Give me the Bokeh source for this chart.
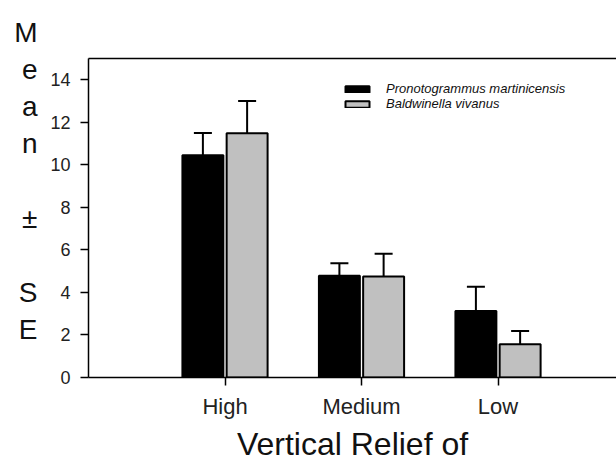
from bokeh.plotting import figure
from bokeh.models import (Range1d, FixedTicker, LinearAxis, Whisker, TeeHead,
                          ColumnDataSource, Legend, LegendItem)
from bokeh.embed import file_html
from bokeh.resources import INLINE

categories = ["High", "Medium", "Low"]
series_names = ["Pronotogrammus martinicensis", "Baldwinella vivanus"]
pronotogrammus_mean = [10.45, 4.78, 3.13]
pronotogrammus_se = [1.05, 0.59, 1.14]
baldwinella_mean = [11.49, 4.75, 1.56]
baldwinella_se = [1.51, 1.07, 0.63]
y_ticks = [0, 2, 4, 6, 8, 10, 12, 14]
y_title = "M\ne\na\nn\n\n±\n\nS\nE\n\n"

FONT = "Liberation Sans"
OFFSET = 0.162
WIDTH = 0.30

centers = [i + 1 for i in range(len(categories))]

p = figure(width=616, height=464, output_backend="svg", toolbar_location=None,
           x_range=Range1d(0, 3.868), y_range=Range1d(0, 15),
           min_border_left=88, min_border_right=0, min_border_top=58,
           min_border_bottom=87)
p.grid.visible = False
p.outline_line_color = None
p.background_fill_color = "white"
p.border_fill_color = "white"

def make_src(means, ses, off):
    return ColumnDataSource(dict(
        x=[c + off for c in centers],
        top=means,
        upper=[m + s for m, s in zip(means, ses)],
    ))

src_a = make_src(pronotogrammus_mean, pronotogrammus_se, -OFFSET)
src_b = make_src(baldwinella_mean, baldwinella_se, OFFSET)

for src in (src_a, src_b):
    w = Whisker(source=src, base="x", lower="top", upper="upper",
                line_color="black", line_width=2,
                lower_head=None,
                upper_head=TeeHead(size=18, line_color="black", line_width=2))
    p.add_layout(w)

ra = p.vbar(x="x", top="top", width=WIDTH, source=src_a, fill_color="black",
            line_color="black", line_width=2)
rb = p.vbar(x="x", top="top", width=WIDTH, source=src_b, fill_color="#c0c0c0",
            line_color="black", line_width=2)

# axes
xa = p.xaxis[0]
xa.ticker = FixedTicker(ticks=centers)
xa.major_label_overrides = {c: n for c, n in zip(centers, categories)}
xa.minor_tick_line_color = None
xa.major_tick_in = 0
xa.major_tick_out = 8
xa.axis_line_width = 1.5
xa.major_tick_line_width = 1.5
xa.major_label_text_font = FONT
xa.major_label_text_font_size = "22px"
xa.major_label_text_color = "#222222"
xa.major_label_standoff = 8
xa.axis_label = "Vertical Relief of"
xa.axis_label_text_font = FONT
xa.axis_label_text_font_size = "32px"
xa.axis_label_text_font_style = "normal"
xa.axis_label_text_color = "#111111"
xa.axis_label_text_line_height = 1.0
xa.axis_label_standoff = 4

ya = p.yaxis[0]
ya.ticker = FixedTicker(ticks=y_ticks)
ya.minor_tick_line_color = None
ya.major_tick_in = 0
ya.major_tick_out = 8
ya.axis_line_width = 1.5
ya.major_tick_line_width = 1.5
ya.major_label_text_font = FONT
ya.major_label_text_font_size = "18px"
ya.major_label_text_color = "#222222"
ya.major_label_standoff = 10
ya.axis_label = y_title
ya.axis_label_orientation = "horizontal"
ya.axis_label_text_font = FONT
ya.axis_label_text_font_size = "28px"
ya.axis_label_text_font_style = "normal"
ya.axis_label_text_color = "#111111"
ya.axis_label_text_align = "center"
ya.axis_label_text_line_height = 1.2
ya.axis_label_standoff = 10

top_axis = LinearAxis(major_tick_line_color=None, minor_tick_line_color=None,
                      major_label_text_font_size="0px", axis_line_width=1.5)
top_axis.ticker = FixedTicker(ticks=[])
p.add_layout(top_axis, "above")

legend_style = dict(glyph_width=30, glyph_height=8, label_height=8,
                    label_standoff=14, spacing=0, padding=0, margin=0,
                    border_line_color=None, background_fill_alpha=0,
                    label_text_font=FONT, label_text_font_size="13px",
                    label_text_font_style="italic", label_text_color="#111111")
legend_a = Legend(items=[LegendItem(label=series_names[0], renderers=[ra])],
                  location=(254, 281), **legend_style)
legend_b = Legend(items=[LegendItem(label=series_names[1], renderers=[rb])],
                  location=(254, 266), **legend_style)
p.add_layout(legend_a)
p.add_layout(legend_b)

open("out.html", "w").write(file_html(p, INLINE))
